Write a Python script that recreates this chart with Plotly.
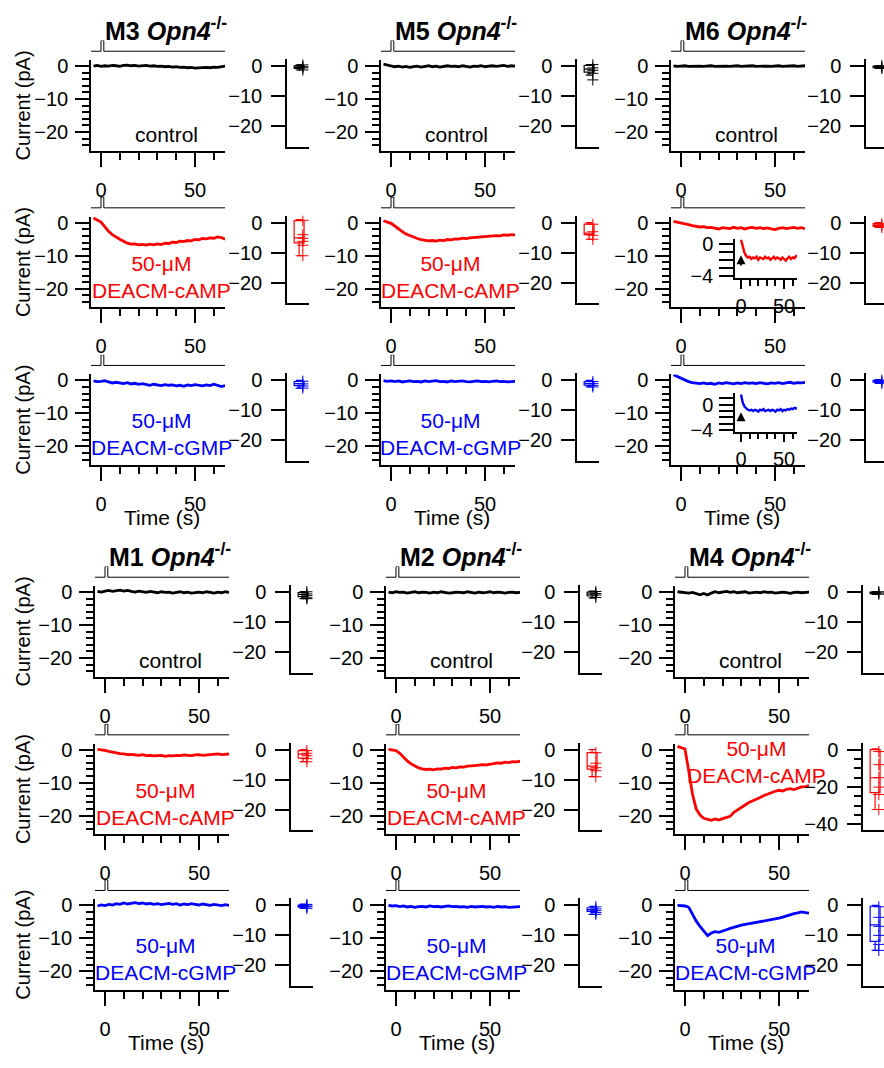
import plotly.graph_objects as go

W, H = 884, 1068
FONT = "Liberation Sans, Arial, Helvetica, sans-serif"
RED, BLUE, BLACK = "#ff0000", "#0000ff", "#000000"

# ---------------------------------------------------------------- data
# sample times of the whole-cell recordings (s); light flash at t = 0
T = [-4, -2, 0, 2, 4, 6, 8, 10, 12, 14, 16, 18, 20, 22, 24, 26, 28, 30,
     32, 34, 36, 38, 40, 42, 44, 46, 48, 50, 52, 54, 56, 58, 60, 62, 64, 66]
INSET_T = [0, 2, 4, 6, 8, 10, 12, 14, 16, 18, 20, 22, 24, 26, 28, 30, 32,
           34, 36, 38, 40, 42, 44, 46, 48, 50, 52, 54, 56, 58, 60, 62, 64, 66]

# uncaging flash protocol (time, on/off)
STIM_T = [-8, 0, 0, 1.5, 1.5, 70]
STIM_V = [0, 0, 1, 1, 0, 0]

# current traces (pA)
M3_CONTROL = [0.0, 0.2, -0.1, 0.1, 0.0, 0.2, 0.1, -0.1, 0.2, 0.3, 0.1, 0.2, 0.0, 0.1, 0.2, 0.0, 0.1, -0.1,
              0.0, -0.2, -0.1, -0.3, -0.2, -0.4, -0.3, -0.5, -0.4, -0.6, -0.5, -0.6, -0.4, -0.5, -0.3, -0.4, -0.1, 0.0]
M3_CAMP = [1.4, 0.8, 0.2, -1.2, -2.6, -3.6, -4.4, -5.0, -5.6, -6.2, -6.5, -6.4, -6.7, -6.6, -6.8, -6.5, -6.7, -6.4,
           -6.6, -6.2, -6.3, -5.9, -6.0, -5.6, -5.7, -5.4, -5.5, -5.1, -5.2, -4.8, -4.9, -4.6, -4.7, -4.3, -4.5, -5.0]
M3_CGMP = [-0.2, -0.4, -0.3, -0.1, -0.5, -0.8, -0.6, -0.9, -1.0, -0.7, -1.1, -0.9, -1.2, -1.0, -1.3, -1.5, -1.2, -1.4,
           -1.6, -1.3, -1.5, -1.4, -1.7, -1.5, -1.8, -1.4, -1.6, -1.3, -1.5, -1.7, -1.4, -1.6, -1.2, -1.5, -1.9, -1.6]
M5_CONTROL = [0.6, 0.4, 0.1, -0.2, 0.0, -0.3, -0.1, -0.4, -0.2, 0.0, -0.3, -0.1, 0.1, -0.2, 0.0, -0.3, -0.2, 0.1,
              -0.1, 0.0, -0.2, 0.1, -0.1, -0.3, 0.0, -0.1, 0.1, -0.2, 0.0, 0.1, -0.1, 0.0, 0.2, -0.1, 0.1, 0.0]
M5_CAMP = [0.6, 0.3, -0.2, -1.0, -1.9, -2.7, -3.4, -3.9, -4.4, -4.8, -5.1, -5.3, -5.5, -5.4, -5.6, -5.3, -5.4, -5.1,
           -5.2, -4.9, -5.0, -4.7, -4.8, -4.6, -4.5, -4.3, -4.4, -4.1, -4.2, -4.0, -3.9, -4.0, -3.7, -3.8, -3.6, -3.7]
M5_CGMP = [-0.1, -0.3, -0.2, -0.4, -0.2, -0.5, -0.3, -0.2, -0.4, -0.3, -0.5, -0.2, -0.4, -0.3, -0.1, -0.4, -0.3, -0.5,
           -0.2, -0.4, -0.3, -0.2, -0.4, -0.5, -0.3, -0.2, -0.4, -0.3, -0.5, -0.3, -0.2, -0.4, -0.3, -0.5, -0.4, -0.3]
M6_CONTROL = [0.1, -0.1, 0.0, 0.1, -0.1, 0.0, 0.1, 0.0, -0.1, 0.0, 0.1, -0.1, 0.0, 0.1, 0.0, -0.1, 0.0, 0.1,
              -0.1, 0.0, 0.0, 0.1, -0.1, 0.0, 0.1, 0.0, -0.1, 0.0, 0.1, -0.1, 0.0, 0.0, 0.1, -0.1, 0.0, 0.1]
M6_CAMP = [0.4, 0.2, 0.0, -0.3, -0.6, -0.9, -1.1, -1.3, -1.2, -1.5, -1.4, -1.7, -1.9, -1.5, -1.6, -1.8, -1.4, -1.7,
           -1.5, -1.9, -1.6, -1.4, -1.7, -1.5, -1.8, -1.6, -1.9, -2.1, -1.7, -1.5, -1.8, -1.6, -1.4, -1.7, -1.5, -1.8]
M6_CGMP = [1.7, 1.2, 0.6, 0.0, -0.4, -0.7, -0.9, -1.0, -0.8, -1.1, -0.9, -1.2, -0.8, -1.0, -0.7, -0.9, -1.1, -0.8,
           -1.0, -0.7, -0.9, -0.8, -1.0, -0.7, -0.9, -1.1, -0.8, -0.9, -0.7, -1.0, -0.8, -0.6, -0.9, -0.7, -0.8, -0.6]
M1_CONTROL = [0.2, 0.0, 0.3, 0.5, 0.2, 0.4, 0.6, 0.3, 0.5, 0.2, 0.0, 0.3, 0.1, -0.1, 0.2, 0.0, -0.2, 0.1,
              -0.1, 0.0, -0.3, -0.1, 0.1, -0.2, 0.0, -0.3, -0.1, 0.0, -0.2, 0.1, -0.1, -0.3, 0.0, -0.2, 0.1, -0.1]
M1_CAMP = [0.1, 0.0, -0.2, -0.5, -0.8, -1.0, -1.2, -1.3, -1.5, -1.4, -1.6, -1.7, -1.5, -1.8, -1.7, -1.9, -1.8, -1.7,
           -2.0, -1.8, -1.9, -1.7, -1.8, -1.6, -1.7, -1.8, -1.6, -1.5, -1.7, -1.6, -1.4, -1.5, -1.3, -1.5, -1.4, -1.3]
M1_CGMP = [-0.2, 0.1, -0.1, 0.3, 0.1, 0.5, 0.3, 0.7, 0.4, 0.6, 0.8, 0.5, 0.7, 0.4, 0.6, 0.3, 0.5, 0.2,
           0.4, 0.6, 0.3, 0.5, 0.1, 0.4, 0.2, 0.5, 0.3, 0.1, 0.4, 0.2, 0.0, 0.3, 0.1, -0.1, 0.2, 0.0]
M2_CONTROL = [0.0, -0.2, 0.1, -0.1, 0.0, -0.3, -0.1, 0.1, -0.2, 0.0, -0.1, -0.3, 0.0, -0.2, 0.1, -0.1, -0.3, -0.2,
              0.0, -0.1, -0.2, 0.1, -0.1, -0.3, 0.0, -0.2, -0.1, 0.1, -0.2, 0.0, -0.1, -0.3, -0.1, 0.0, -0.2, -0.1]
M2_CAMP = [0.1, 0.0, -0.3, -1.1, -2.3, -3.4, -4.3, -5.0, -5.5, -5.8, -6.0, -5.9, -6.1, -5.8, -5.9, -5.6, -5.7, -5.4,
           -5.5, -5.2, -5.3, -5.0, -5.0, -4.8, -4.7, -4.5, -4.6, -4.3, -4.2, -4.0, -4.1, -3.8, -3.9, -3.6, -3.7, -3.5]
M2_CGMP = [0.0, -0.2, -0.1, -0.4, -0.2, -0.5, -0.3, -0.6, -0.4, -0.3, -0.5, -0.2, -0.4, -0.3, -0.5, -0.4, -0.2, -0.4,
           -0.3, -0.5, -0.4, -0.6, -0.3, -0.5, -0.4, -0.3, -0.5, -0.4, -0.6, -0.3, -0.5, -0.4, -0.6, -0.5, -0.3, -0.4]
M4_CONTROL = [0.1, 0.0, -0.1, -0.3, -0.1, -0.5, -0.8, -0.4, -0.9, -0.3, 0.1, -0.2, 0.0, 0.2, -0.1, 0.1, -0.2, 0.0,
              0.1, -0.3, -0.1, 0.0, -0.2, 0.1, -0.1, 0.0, -0.3, -0.1, 0.0, -0.2, -0.4, -0.1, 0.0, -0.2, -0.1, 0.0]
M4_CAMP = [1.0, 0.6, 0.2, -6.5, -13.5, -18.0, -19.8, -20.8, -21.2, -21.4, -21.0, -21.3, -20.9, -20.6, -20.2, -19.0,
           -18.2, -17.5, -16.6, -16.0, -15.5, -15.1, -14.5, -13.9, -13.4, -13.0, -12.6, -12.3, -12.5, -12.0, -11.8,
           -12.1, -11.6, -11.3, -11.2, -10.9]
M4_CGMP = [0.0, -0.1, -0.2, -0.6, -2.8, -4.8, -6.4, -7.8, -9.2, -8.4, -8.0, -8.2, -7.9, -7.4, -7.0, -6.6, -6.3, -6.0,
           -5.8, -5.6, -5.4, -5.3, -5.0, -4.9, -4.6, -4.5, -4.2, -3.9, -3.6, -3.2, -2.8, -2.5, -2.3, -2.0, -2.2, -2.4]

# M6 responses on an expanded scale (pA)
M6_CAMP_ZOOM = [0.6, -0.4, -1.1, -1.5, -1.7, -1.6, -1.9, -1.7, -1.8, -1.6, -2.0, -1.7, -1.8, -1.9, -1.6, -1.8, -1.7,
                -2.0, -1.8, -1.6, -1.9, -1.7, -1.8, -2.0, -1.7, -1.9, -2.1, -1.8, -1.6, -1.9, -1.7, -1.8, -1.5, -1.6]
M6_CGMP_ZOOM = [1.6, 0.3, -0.3, -0.6, -0.8, -0.9, -0.8, -1.0, -0.8, -0.9, -1.1, -0.8, -0.9, -0.7, -1.0, -0.9, -0.8,
                -1.0, -0.8, -0.9, -1.1, -0.8, -0.9, -0.7, -1.0, -0.8, -0.9, -0.7, -0.8, -0.6, -0.7, -0.5, -0.6, -0.5]

# peak amplitude summaries (pA): [lower fence, q1, median, q3, upper fence] and single cells
M3_CONTROL_BOX = [-1.3, -0.8, -0.4, 0.1, 0.4]
M3_CONTROL_PTS = [0.4, -0.2, -0.6, -1.3]
M5_CONTROL_BOX = [-3.0, -2.0, -1.0, 0.2, 0.5]
M5_CONTROL_PTS = [0.5, -0.6, -1.4, -2.4, -4.6]
M6_CONTROL_BOX = [-0.8, -0.5, -0.3, 0.0, 0.2]
M6_CONTROL_PTS = [0.1, -0.4, -0.8]
M3_CAMP_BOX = [-11.0, -6.7, -5.0, 0.7, 1.0]
M3_CAMP_PTS = [0.8, -4.0, -5.2, -6.2, -7.5, -11.0]
M5_CAMP_BOX = [-5.5, -4.0, -3.5, -0.5, 0.0]
M5_CAMP_PTS = [-0.5, -3.0, -4.2, -5.5]
M6_CAMP_BOX = [-1.6, -1.2, -0.8, -0.3, 0.0]
M6_CAMP_PTS = [-0.4, -1.0, -1.6]
M3_CGMP_BOX = [-2.6, -1.8, -1.1, -0.4, 0.0]
M3_CGMP_PTS = [-0.3, -1.2, -1.9, -2.6]
M5_CGMP_BOX = [-2.2, -1.6, -1.0, -0.4, 0.0]
M5_CGMP_PTS = [-0.4, -1.1, -1.7, -2.2]
M6_CGMP_BOX = [-1.0, -0.6, -0.3, 0.0, 0.2]
M6_CGMP_PTS = [0.0, -0.5, -1.0]
M1_CONTROL_BOX = [-2.2, -1.5, -0.8, -0.2, 0.2]
M1_CONTROL_PTS = [0.1, -0.6, -1.2, -1.9, -2.2]
M2_CONTROL_BOX = [-2.0, -1.3, -0.7, 0.0, 0.3]
M2_CONTROL_PTS = [0.2, -0.5, -1.0, -1.8]
M4_CONTROL_BOX = [-0.8, -0.5, -0.2, 0.0, 0.2]
M4_CONTROL_PTS = [0.1, -0.3, -0.7]
M1_CAMP_BOX = [-4.0, -2.8, -1.5, -0.3, 0.0]
M1_CAMP_PTS = [-0.3, -1.2, -2.0, -3.0, -4.0]
M2_CAMP_BOX = [-9.0, -6.5, -5.5, -1.0, 0.0]
M2_CAMP_PTS = [-1.0, -4.5, -6.0, -7.0, -9.0]
M4_CAMP_BOX = [-32.0, -23.0, -15.0, 0.0, 0.5]
M4_CAMP_PTS = [-1.0, -8.0, -15.0, -20.0, -24.0, -32.0]
M1_CGMP_BOX = [-1.0, -0.6, -0.3, 0.1, 0.4]
M1_CGMP_PTS = [0.3, -0.2, -0.5, -1.0]
M2_CGMP_BOX = [-3.0, -2.0, -1.4, -0.8, -0.3]
M2_CGMP_PTS = [-0.5, -1.2, -1.8, -2.4, -3.0]
M4_CGMP_BOX = [-15.0, -12.0, -6.5, -0.3, 0.0]
M4_CGMP_PTS = [-0.5, -4.0, -7.0, -10.0, -13.0, -15.0]

CONDITIONS = ["control", "cAMP", "cGMP"]
COND_COLOR = {"control": BLACK, "cAMP": RED, "cGMP": BLUE}
COND_LABEL = {"control": "control", "cAMP": "50-μM<br>DEACM-cAMP", "cGMP": "50-μM<br>DEACM-cGMP"}

DATA = {
    "M3": {"control": (M3_CONTROL, M3_CONTROL_BOX, M3_CONTROL_PTS), "cAMP": (M3_CAMP, M3_CAMP_BOX, M3_CAMP_PTS),
           "cGMP": (M3_CGMP, M3_CGMP_BOX, M3_CGMP_PTS)},
    "M5": {"control": (M5_CONTROL, M5_CONTROL_BOX, M5_CONTROL_PTS), "cAMP": (M5_CAMP, M5_CAMP_BOX, M5_CAMP_PTS),
           "cGMP": (M5_CGMP, M5_CGMP_BOX, M5_CGMP_PTS)},
    "M6": {"control": (M6_CONTROL, M6_CONTROL_BOX, M6_CONTROL_PTS), "cAMP": (M6_CAMP, M6_CAMP_BOX, M6_CAMP_PTS),
           "cGMP": (M6_CGMP, M6_CGMP_BOX, M6_CGMP_PTS)},
    "M1": {"control": (M1_CONTROL, M1_CONTROL_BOX, M1_CONTROL_PTS), "cAMP": (M1_CAMP, M1_CAMP_BOX, M1_CAMP_PTS),
           "cGMP": (M1_CGMP, M1_CGMP_BOX, M1_CGMP_PTS)},
    "M2": {"control": (M2_CONTROL, M2_CONTROL_BOX, M2_CONTROL_PTS), "cAMP": (M2_CAMP, M2_CAMP_BOX, M2_CAMP_PTS),
           "cGMP": (M2_CGMP, M2_CGMP_BOX, M2_CGMP_PTS)},
    "M4": {"control": (M4_CONTROL, M4_CONTROL_BOX, M4_CONTROL_PTS), "cAMP": (M4_CAMP, M4_CAMP_BOX, M4_CAMP_PTS),
           "cGMP": (M4_CGMP, M4_CGMP_BOX, M4_CGMP_PTS)},
}

# ---------------------------------------------------------------- layout geometry (pixels)
TRACE_LEFT = {"M3": 91, "M5": 381, "M6": 671, "M1": 95, "M2": 386, "M4": 675}
BOX_LEFT = {"M3": 287, "M5": 577, "M6": 866, "M1": 291, "M2": 580, "M4": 863}
ZERO_ROWS = {"top": [61, 220, 380], "bottom": [595, 755, 913]}
BLOCKS = {"top": ["M3", "M5", "M6"], "bottom": ["M1", "M2", "M4"]}
TITLE_Y = {"top": 23, "bottom": 557}
TRACE_W, BOX_W = 134, 22
PX_PER_S = 1.88

TICKFONT = dict(family=FONT, size=20, color=BLACK)


def xd(a, b):
    return [max(0.0, a / W), min(1.0, b / W)]


def yd(top, bottom):
    return [1 - bottom / H, 1 - top / H]


fig = go.Figure()
layout = {}
annotations = []
counter = [0]


def new_axes():
    counter[0] += 1
    k = counter[0]
    s = "" if k == 1 else str(k)
    return "xaxis" + s, "yaxis" + s, "x" + s, "y" + s


def line_axis(**kw):
    base = dict(showline=True, linecolor=BLACK, linewidth=1.5, showgrid=False, zeroline=False,
                ticks="outside", tickcolor=BLACK, tickwidth=1.5, tickfont=TICKFONT, fixedrange=True)
    base.update(kw)
    return base


def hidden_axis(**kw):
    base = dict(visible=False, showgrid=False, zeroline=False, fixedrange=True)
    base.update(kw)
    return base


def paper_text(text, px, py, size=21, color=BLACK, angle=0):
    annotations.append(dict(text=text, x=px / W, y=1 - py / H, xref="paper", yref="paper",
                            xanchor="center", yanchor="middle", showarrow=False, textangle=angle,
                            font=dict(family=FONT, size=size, color=color)))


def trace_panel(L, z, values, color):
    xk, yk, xr, yr = new_axes()
    xrange = [-10 / PX_PER_S, (TRACE_W - 10) / PX_PER_S]
    layout[xk] = line_axis(domain=xd(L, L + TRACE_W), range=xrange, anchor=yr,
                           tickmode="array", tickvals=[0, 50], ticktext=["0", "50"], ticklen=14,
                           ticklabelstandoff=6,
                           minor=dict(tickmode="linear", tick0=0, dtick=10, ticks="outside", ticklen=7,
                                      tickwidth=1.5, tickcolor=BLACK, showgrid=False))
    layout[yk] = line_axis(domain=yd(z - 6, z + 86), range=[-86 / 3.35, 6 / 3.35], anchor=xr,
                           tickmode="array", tickvals=[0, -10, -20], ticklen=14, ticklabelstandoff=3,
                           minor=dict(tickmode="linear", tick0=0, dtick=2, ticks="outside", ticklen=7,
                                      tickwidth=1.5, tickcolor=BLACK, showgrid=False))
    fig.add_trace(go.Scatter(x=T, y=values, xaxis=xr, yaxis=yr, mode="lines",
                             line=dict(color=color, width=2.8), hoverinfo="skip"))
    # flash protocol above the trace
    xk2, yk2, xr2, yr2 = new_axes()
    layout[xk2] = hidden_axis(domain=xd(L, L + TRACE_W), range=xrange, anchor=yr2)
    layout[yk2] = hidden_axis(domain=yd(z - 26, z - 14), range=[-0.1, 1.0], anchor=xr2)
    fig.add_trace(go.Scatter(x=STIM_T, y=STIM_V, xaxis=xr2, yaxis=yr2, mode="lines",
                             line=dict(color=BLACK, width=1.0), hoverinfo="skip"))


def box_panel(B, z, stats, pts, color, big=False):
    xk, yk, xr, yr = new_axes()
    right = min(B + BOX_W, W)
    layout[xk] = line_axis(domain=xd(B, right), range=[0, (right - B) / BOX_W], anchor=yr,
                           ticks="", showticklabels=False)
    if big:
        yax = dict(range=[-43.2, 3.7], tickvals=[0, -20, -40],
                   minor=dict(tickmode="linear", tick0=0, dtick=5, ticks="outside", ticklen=7,
                              tickwidth=1.5, tickcolor=BLACK, showgrid=False))
    else:
        yax = dict(range=[-82 / 3.05, 7 / 3.05], tickvals=[0, -10, -20])
    layout[yk] = line_axis(domain=yd(z - 7, z + 82), anchor=xr, tickmode="array", ticklen=14,
                           ticklabelstandoff=5, **yax)
    fig.add_trace(go.Box(x=[0.55], lowerfence=[stats[0]], q1=[stats[1]], median=[stats[2]],
                         q3=[stats[3]], upperfence=[stats[4]], width=0.45, whiskerwidth=0.7,
                         orientation="v", boxpoints=False, fillcolor="rgba(0,0,0,0)",
                         line=dict(color=color, width=1.2), xaxis=xr, yaxis=yr, hoverinfo="skip"))
    fig.add_trace(go.Scatter(x=[0.72] * len(pts), y=pts, mode="markers", xaxis=xr, yaxis=yr,
                             marker=dict(symbol="cross-thin", size=8, line=dict(color=color, width=1)),
                             hoverinfo="skip"))


def inset_panel(z_top, yrange, values, color, arrow_from, arrow_to):
    xk, yk, xr, yr = new_axes()
    layout[xk] = line_axis(domain=xd(735, 797), range=[-7, 65], anchor=yr, tickmode="array",
                           tickvals=[0, 50], ticklen=9, ticklabelstandoff=0,
                           minor=dict(tickmode="linear", tick0=0, dtick=10, ticks="outside", ticklen=6,
                                      tickwidth=1.5, tickcolor=BLACK, showgrid=False))
    layout[yk] = line_axis(domain=yd(z_top, z_top + 39), range=yrange, anchor=xr, tickmode="array",
                           tickvals=[0, -4], ticklen=14, ticklabelstandoff=2,
                           minor=dict(tickmode="linear", tick0=0, dtick=1, ticks="outside", ticklen=14,
                                      tickwidth=1.5, tickcolor=BLACK, showgrid=False))
    fig.add_trace(go.Scatter(x=INSET_T, y=values, xaxis=xr, yaxis=yr, mode="lines",
                             line=dict(color=color, width=2.4), hoverinfo="skip"))
    annotations.append(dict(x=0, y=arrow_to, ax=0, ay=arrow_from, xref=xr, yref=yr, axref=xr, ayref=yr,
                            text="", showarrow=True, arrowhead=2, arrowsize=1, arrowwidth=1.8,
                            arrowcolor=BLACK))


for block, cells in BLOCKS.items():
    zeros = ZERO_ROWS[block]
    for ci, cell in enumerate(cells):
        L, B = TRACE_LEFT[cell], BOX_LEFT[cell]
        paper_text("<b>%s <i>Opn4</i><sup>-/-</sup></b>" % cell, L + 75, TITLE_Y[block], size=25)
        for ri, cond in enumerate(CONDITIONS):
            z = zeros[ri]
            trace, stats, pts = DATA[cell][cond]
            color = COND_COLOR[cond]
            trace_panel(L, z, trace, color)
            box_panel(B, z, stats, pts, color, big=(cell == "M4" and cond == "cAMP"))
            if cond == "control":
                paper_text("control", L + 75, z + 69)
            elif cell == "M6":
                pass  # expanded-scale insets take the place of the label
            elif cell == "M4" and cond == "cAMP":
                paper_text(COND_LABEL[cond], L + 81, z + 13, color=color)
            else:
                paper_text(COND_LABEL[cond], L + 70, z + 55, color=color)
            if ci == 0:
                paper_text("Current (pA)", 23, z + 40, size=20, angle=-90)
        paper_text("Time (s)", L + 71, zeros[2] + 139)

inset_panel(237, [-4.3, 0.6], M6_CAMP_ZOOM, RED, -2.9, -1.4)
inset_panel(393, [-4.2, 1.8], M6_CGMP_ZOOM, BLUE, -2.8, -1.2)

fig.update_layout(**layout)
fig.update_layout(width=W, height=H, margin=dict(l=0, r=0, t=0, b=0), showlegend=False,
                  paper_bgcolor="white", plot_bgcolor="rgba(0,0,0,0)", annotations=annotations,
                  font=dict(family=FONT, color=BLACK))
fig.write_html("out.html")
